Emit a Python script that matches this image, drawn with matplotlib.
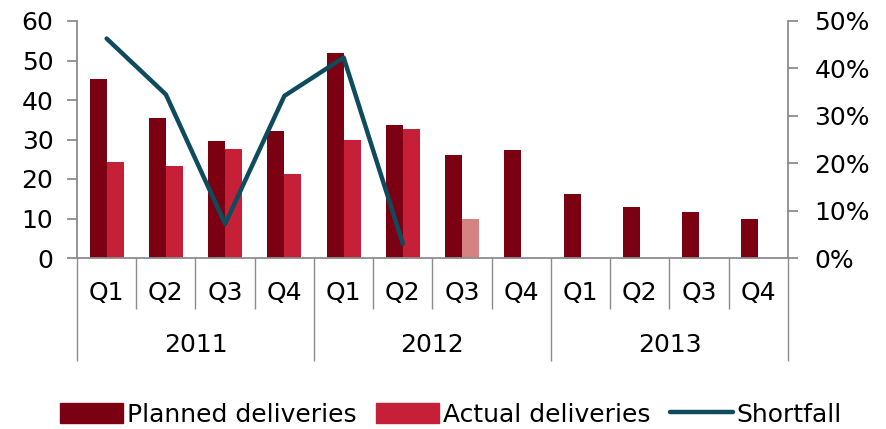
import matplotlib
matplotlib.use("Agg")
import matplotlib.pyplot as plt
from matplotlib.patches import Patch
from matplotlib.lines import Line2D
import numpy as np

quarters = ["Q1", "Q2", "Q3", "Q4"] * 3
years = ["2011", "2012", "2013"]
planned = [45.2, 35.4, 29.5, 32.1, 52.0, 33.6, 26.0, 27.4, 16.2, 12.9, 11.6, 9.95]
actual = [24.3, 23.3, 27.5, 21.2, 30.0, 32.7, 9.9, None, None, None, None, None]
shortfall = [46.3, 34.5, 7.2, 34.2, 42.3, 3.0]  # percent

c_plan = "#7A0012"
c_act = "#C62038"
c_act_light = "#D48282"
c_line = "#0D4B5D"
c_axis = "#8C8C8C"
fs = 18

plt.rcParams['font.family'] = ['DejaVu Sans']
fig = plt.figure(figsize=(8.87, 4.29), dpi=100)
W, H = 887, 429
ax = fig.add_axes([77 / W, (H - 258) / H, (788 - 77) / W, (258 - 21) / H])

x = np.arange(len(planned))
bw = 0.287
ax.bar(x - bw / 2, planned, width=bw, color=c_plan, edgecolor="none", zorder=2)
act_x = [xi for xi, v in zip(x, actual) if v is not None]
act_v = [v for v in actual if v is not None]
act_c = [c_act] * len(act_v)
act_c[6] = c_act_light
ax.bar(np.array(act_x) + bw / 2, act_v, width=bw, color=act_c, edgecolor="none", zorder=2)

ax.set_xlim(-0.5, 11.5)
ax.set_ylim(0, 60)
ax.set_yticks(range(0, 61, 10))
for s in ["top", "right"]:
    ax.spines[s].set_visible(False)
ax.spines["left"].set_color(c_axis)
ax.spines["bottom"].set_color(c_axis)
ax.spines["left"].set_linewidth(1.3)
ax.spines["bottom"].set_linewidth(1.3)
ax.tick_params(axis="y", length=7, width=1.3, color=c_axis, labelsize=fs, pad=10)

# x-axis category separators
major = [-0.5, 3.5, 7.5, 11.5]
minor = [b for b in np.arange(-0.5, 12, 1.0) if b not in major]
ax.set_xticks(major)
ax.set_xticks(minor, minor=True)
ax.set_xticklabels([])
ax.tick_params(axis="x", which="major", length=74, width=1.0, color=c_axis, direction="out")
ax.tick_params(axis="x", which="minor", length=37, width=1.0, color=c_axis, direction="out")

trans = matplotlib.transforms.blended_transform_factory(ax.transData, fig.transFigure)
for xi, q in zip(x, quarters):
    ax.text(xi, (H - 293) / H, q, transform=trans, ha="center", va="center", fontsize=fs)
for i, yr in enumerate(years):
    ax.text(4 * i + 1.5, (H - 345) / H, yr, transform=trans, ha="center", va="center", fontsize=fs)

ax2 = ax.twinx()
ax2.set_ylim(0, 50)
ax2.set_yticks(range(0, 51, 10))
ax2.set_yticklabels([f"{v}%" for v in range(0, 51, 10)])
for s in ["top", "left", "bottom"]:
    ax2.spines[s].set_visible(False)
ax2.spines["right"].set_color(c_axis)
ax2.spines["right"].set_linewidth(1.3)
ax2.tick_params(axis="y", length=7, width=1.3, color=c_axis, labelsize=fs, pad=12)
ax2.plot(x[:len(shortfall)], shortfall, color=c_line, lw=3.2, solid_capstyle="round",
         solid_joinstyle="round", zorder=3)

handles = [Patch(color=c_plan), Patch(color=c_act),
           Line2D([], [], color=c_line, lw=3.2, solid_capstyle="round")]
labels = ["Planned deliveries", "Actual deliveries", "Shortfall"]
fig.legend(handles, labels, loc="center", bbox_to_anchor=(451 / W, 14.5 / H), ncol=3,
           frameon=False, fontsize=fs, handlelength=2.5, handleheight=0.85,
           handletextpad=0.15, columnspacing=0.8, borderpad=0)

fig.savefig("out.png", dpi=100)
